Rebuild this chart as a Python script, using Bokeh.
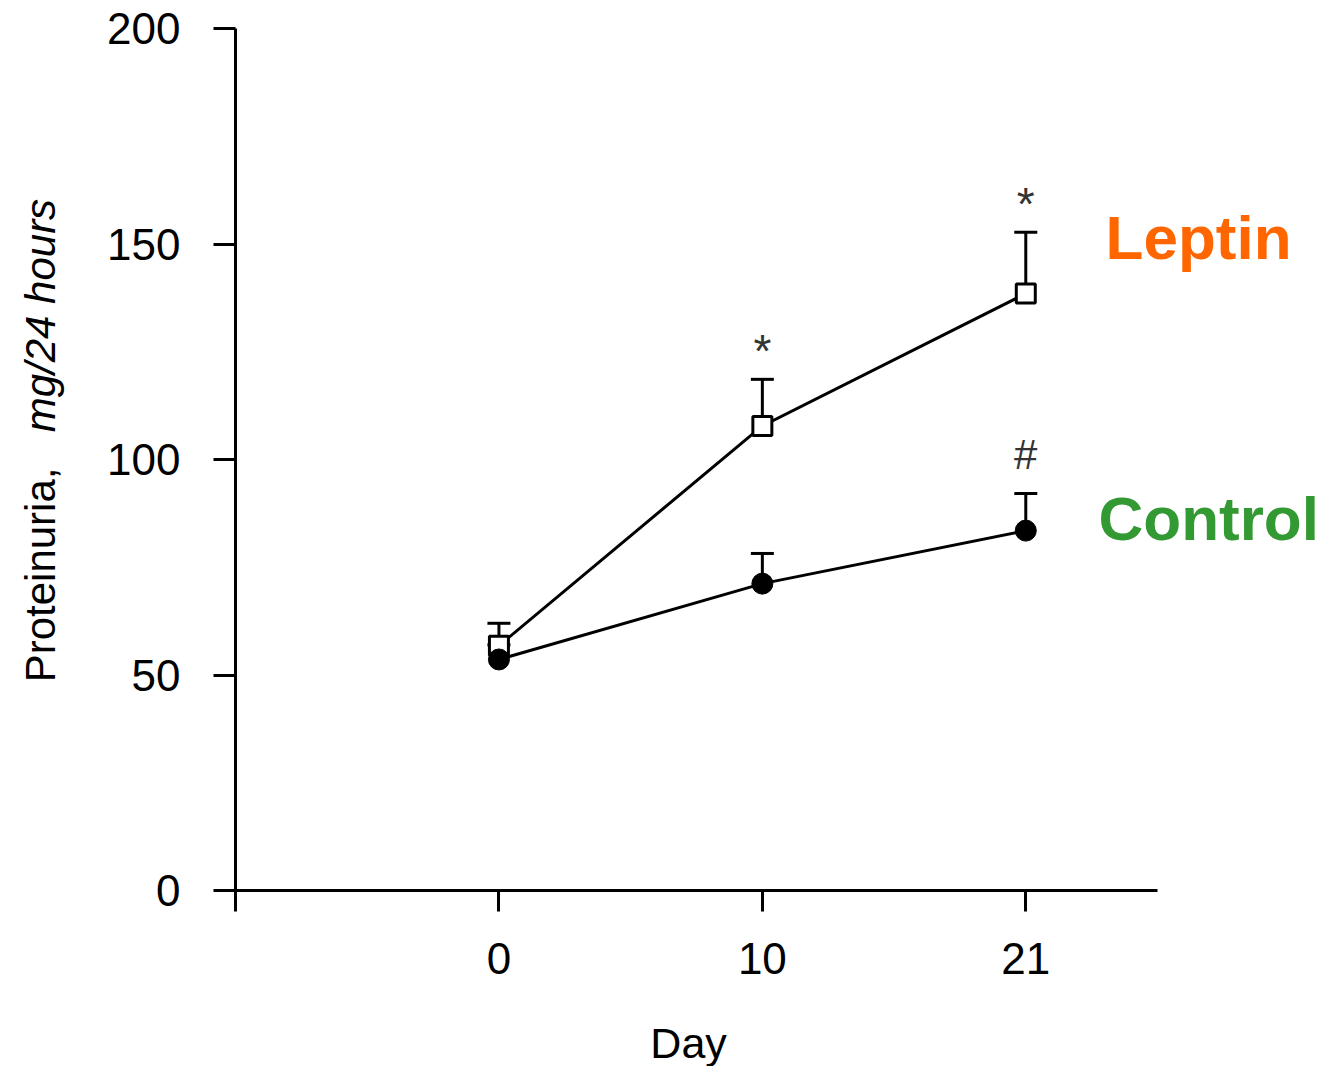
import math
from bokeh.plotting import figure
from bokeh.models import Range1d, FixedTicker, Label, Whisker, TeeHead, ColumnDataSource
from bokeh.embed import file_html
from bokeh.resources import INLINE
from bokeh.core.properties import value

# ---- data ----
days = ["0", "10", "21"]
leptin_mean = [56.8, 107.8, 138.5]
leptin_err = [5.2, 10.8, 14.2]
control_mean = [53.6, 71.2, 83.5]
control_err = [3.4, 7.0, 8.6]
leptin_sig = ["", "*", "*"]
control_sig = ["", "", "#"]
y_ticks = [0, 50, 100, 150, 200]

FONT = "Liberation Sans"
xs = list(range(len(days)))

p = figure(
    frame_width=922, frame_height=862,
    min_border_left=235, min_border_right=166, min_border_top=28, min_border_bottom=176,
    x_range=Range1d(-1, 2.5), y_range=Range1d(0, 200),
    output_backend="svg", toolbar_location=None,
)
p.outline_line_color = None
p.xgrid.visible = False
p.ygrid.visible = False
p.background_fill_color = "white"
p.border_fill_color = "white"

# x axis
p.xaxis.ticker = FixedTicker(ticks=[-1] + xs)
overrides = {-1: ""}
overrides.update({i: d for i, d in enumerate(days)})
p.xaxis.major_label_overrides = overrides
p.xaxis.major_label_standoff = 31

# y axis
p.yaxis.ticker = FixedTicker(ticks=y_ticks)
p.yaxis.major_label_standoff = 33

for ax in (p.xaxis[0], p.yaxis[0]):
    ax.axis_line_width = 3
    ax.axis_line_color = "black"
    ax.major_tick_line_width = 3
    ax.major_tick_line_color = "black"
    ax.major_tick_in = 0
    ax.major_tick_out = 22
    ax.minor_tick_line_color = None
    ax.major_label_text_font = FONT
    ax.major_label_text_font_size = "44px"
    ax.major_label_text_color = "black"
p.xaxis.major_tick_out = 21

# x axis title
p.add_layout(Label(x=0.72, y=-35.3, text="Day", text_align="center",
                   text_baseline="middle", text_font=FONT, text_font_size="43px",
                   text_color="black"), "below")

# y axis title (mixed upright / italic) in the left panel so it is not clipped
p.add_layout(Label(x=-1.74, y=48.3, text="Proteinuria, ", angle=math.pi / 2,
                   text_align="left", text_baseline="middle",
                   text_font=FONT, text_font_size="42px", text_color="black"), "left")
p.add_layout(Label(x=-1.74, y=106.3, text="mg/24 hours", angle=math.pi / 2,
                   text_align="left", text_baseline="middle",
                   text_font=FONT, text_font_size="42px", text_font_style="italic",
                   text_color="black"), "left")

# lines
p.line(xs, leptin_mean, line_width=3, line_color="black")
p.line(xs, control_mean, line_width=3, line_color="black")

# error bars (upper only)
lep_src = ColumnDataSource(dict(x=xs, lower=leptin_mean,
                                upper=[m + e for m, e in zip(leptin_mean, leptin_err)],
                                sig=leptin_sig))
con_src = ColumnDataSource(dict(x=xs, lower=control_mean,
                                upper=[m + e for m, e in zip(control_mean, control_err)],
                                sig=control_sig))
for src in (lep_src, con_src):
    p.add_layout(Whisker(source=src, base="x", upper="upper", lower="lower",
                         upper_head=TeeHead(size=23, line_width=3, line_color="black"),
                         lower_head=None, line_width=3, line_color="black"))

# markers
p.scatter("x", "lower", source=lep_src, marker="square", size=19,
          fill_color="white", line_color="black", line_width=3)
p.scatter("x", "lower", source=con_src, marker="circle", size=21,
          fill_color="black", line_color="black", line_width=1)

# significance marks
p.text("x", "upper", text="sig", source=lep_src, text_font=value(FONT),
       text_font_size="46px", text_align="center", text_baseline="alphabetic",
       y_offset=-28, text_color="#333333")
p.text("x", "upper", text="sig", source=con_src, text_font=value(FONT),
       text_font_size="42px", text_align="center", text_baseline="alphabetic",
       y_offset=-39, text_color="#333333")

# series labels in the right panel so they are not clipped
p.add_layout(Label(x=2.303, y=151.5, text="Leptin", text_align="left",
                   text_baseline="alphabetic", text_font=FONT, text_font_size="62px",
                   text_font_style="bold", text_color="#FF6600"), "right")
p.add_layout(Label(x=2.276, y=86.3, text="Control", text_align="left",
                   text_baseline="alphabetic", text_font=FONT, text_font_size="62px",
                   text_font_style="bold", text_color="#339933"), "right")

open("out.html", "w").write(file_html(p, INLINE))
